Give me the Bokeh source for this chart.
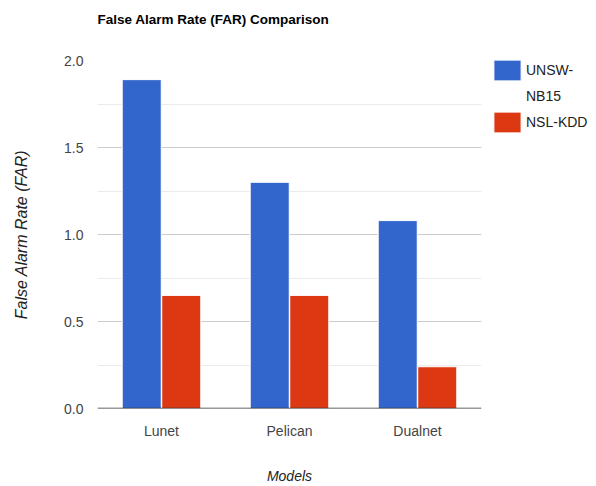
from bokeh.plotting import figure
from bokeh.models import (ColumnDataSource, FactorRange, Range1d, Span, Title,
                          Legend, LegendItem, FixedTicker, NumeralTickFormatter)
from bokeh.transform import dodge
from bokeh.embed import file_html
from bokeh.resources import INLINE

# Data
models = ["Lunet", "Pelican", "Dualnet"]
unsw_nb15 = [1.89, 1.30, 1.08]
nsl_kdd = [0.65, 0.65, 0.24]
y_ticks = [0.0, 0.5, 1.0, 1.5, 2.0]

BLUE = "#3366cc"
RED = "#dc3912"
FONT = "Liberation Sans"

src = ColumnDataSource(dict(model=models, unsw=unsw_nb15, nsl=nsl_kdd))

p = figure(frame_width=384, frame_height=348,
           x_range=FactorRange(*models, range_padding=0),
           y_range=Range1d(0, 2.0), output_backend="svg", toolbar_location=None,
           title="False Alarm Rate (FAR) Comparison",
           min_border_left=97, min_border_right=115, min_border_top=60,
           min_border_bottom=78)
p.outline_line_color = None
p.background_fill_color = "white"
p.border_fill_color = "white"

bw = 0.305
r1 = p.vbar(x=dodge("model", -0.1545, range=p.x_range), top="unsw", width=bw, source=src,
            fill_color=BLUE, line_color="white", line_width=1)
r2 = p.vbar(x=dodge("model", 0.1545, range=p.x_range), top="nsl", width=bw, source=src,
            fill_color=RED, line_color="white", line_width=1)
# empty, invisible renderer used for the wrapped second line of the legend label
r_blank = p.vbar(x=[], top=[], width=bw, fill_alpha=0, line_alpha=0)

# Title, lifted away from the plot area by a blank spacer panel
p.title.text_font = FONT
p.title.text_font_size = "13.5px"
p.title.text_font_style = "bold"
p.title.text_color = "#000000"
p.title.align = "left"
p.title.vertical_align = "bottom"
p.title.standoff = 0
p.add_layout(Title(text=" ", text_font_size="1px", standoff=31), "above")

# Axes
p.yaxis.ticker = FixedTicker(ticks=y_ticks, minor_ticks=[0.25, 0.75, 1.25, 1.75])
p.yaxis.formatter = NumeralTickFormatter(format="0.0")
for ax in (p.xaxis[0], p.yaxis[0]):
    ax.axis_line_color = None
    ax.major_tick_line_color = None
    ax.minor_tick_line_color = None
    ax.major_label_text_font = FONT
    ax.major_label_text_font_size = "14px"
    ax.major_label_text_color = "#444444"
    ax.axis_label_text_font = FONT
    ax.axis_label_text_font_size = "14px"
    ax.axis_label_text_font_style = "italic"
    ax.axis_label_text_color = "#222222"
p.yaxis.axis_label_text_font_size = "16px"
p.yaxis.major_label_standoff = 8
p.xaxis.major_label_standoff = 8
p.yaxis.axis_label = "False Alarm Rate (FAR)"
p.xaxis.axis_label = "Models"
p.yaxis.axis_label_standoff = 31
p.xaxis.axis_label_standoff = 26

p.xgrid.grid_line_color = None
p.ygrid.grid_line_color = "#cccccc"
p.ygrid.minor_grid_line_color = "#ebebeb"

p.add_layout(Span(location=0, dimension="width", line_color="#333333", line_width=1.5))

legend = Legend(items=[LegendItem(label="UNSW-", renderers=[r1]),
                       LegendItem(label="NB15", renderers=[r_blank]),
                       LegendItem(label="NSL-KDD", renderers=[r2])],
                location=(9, 273), orientation="vertical",
                glyph_width=34, glyph_height=26, label_standoff=2, spacing=0,
                padding=0, margin=0, border_line_color=None,
                background_fill_alpha=0,
                label_text_font=FONT, label_text_font_size="14px",
                label_text_color="#222222")
p.add_layout(legend, "right")

open("out.html", "w").write(file_html(p, INLINE))
